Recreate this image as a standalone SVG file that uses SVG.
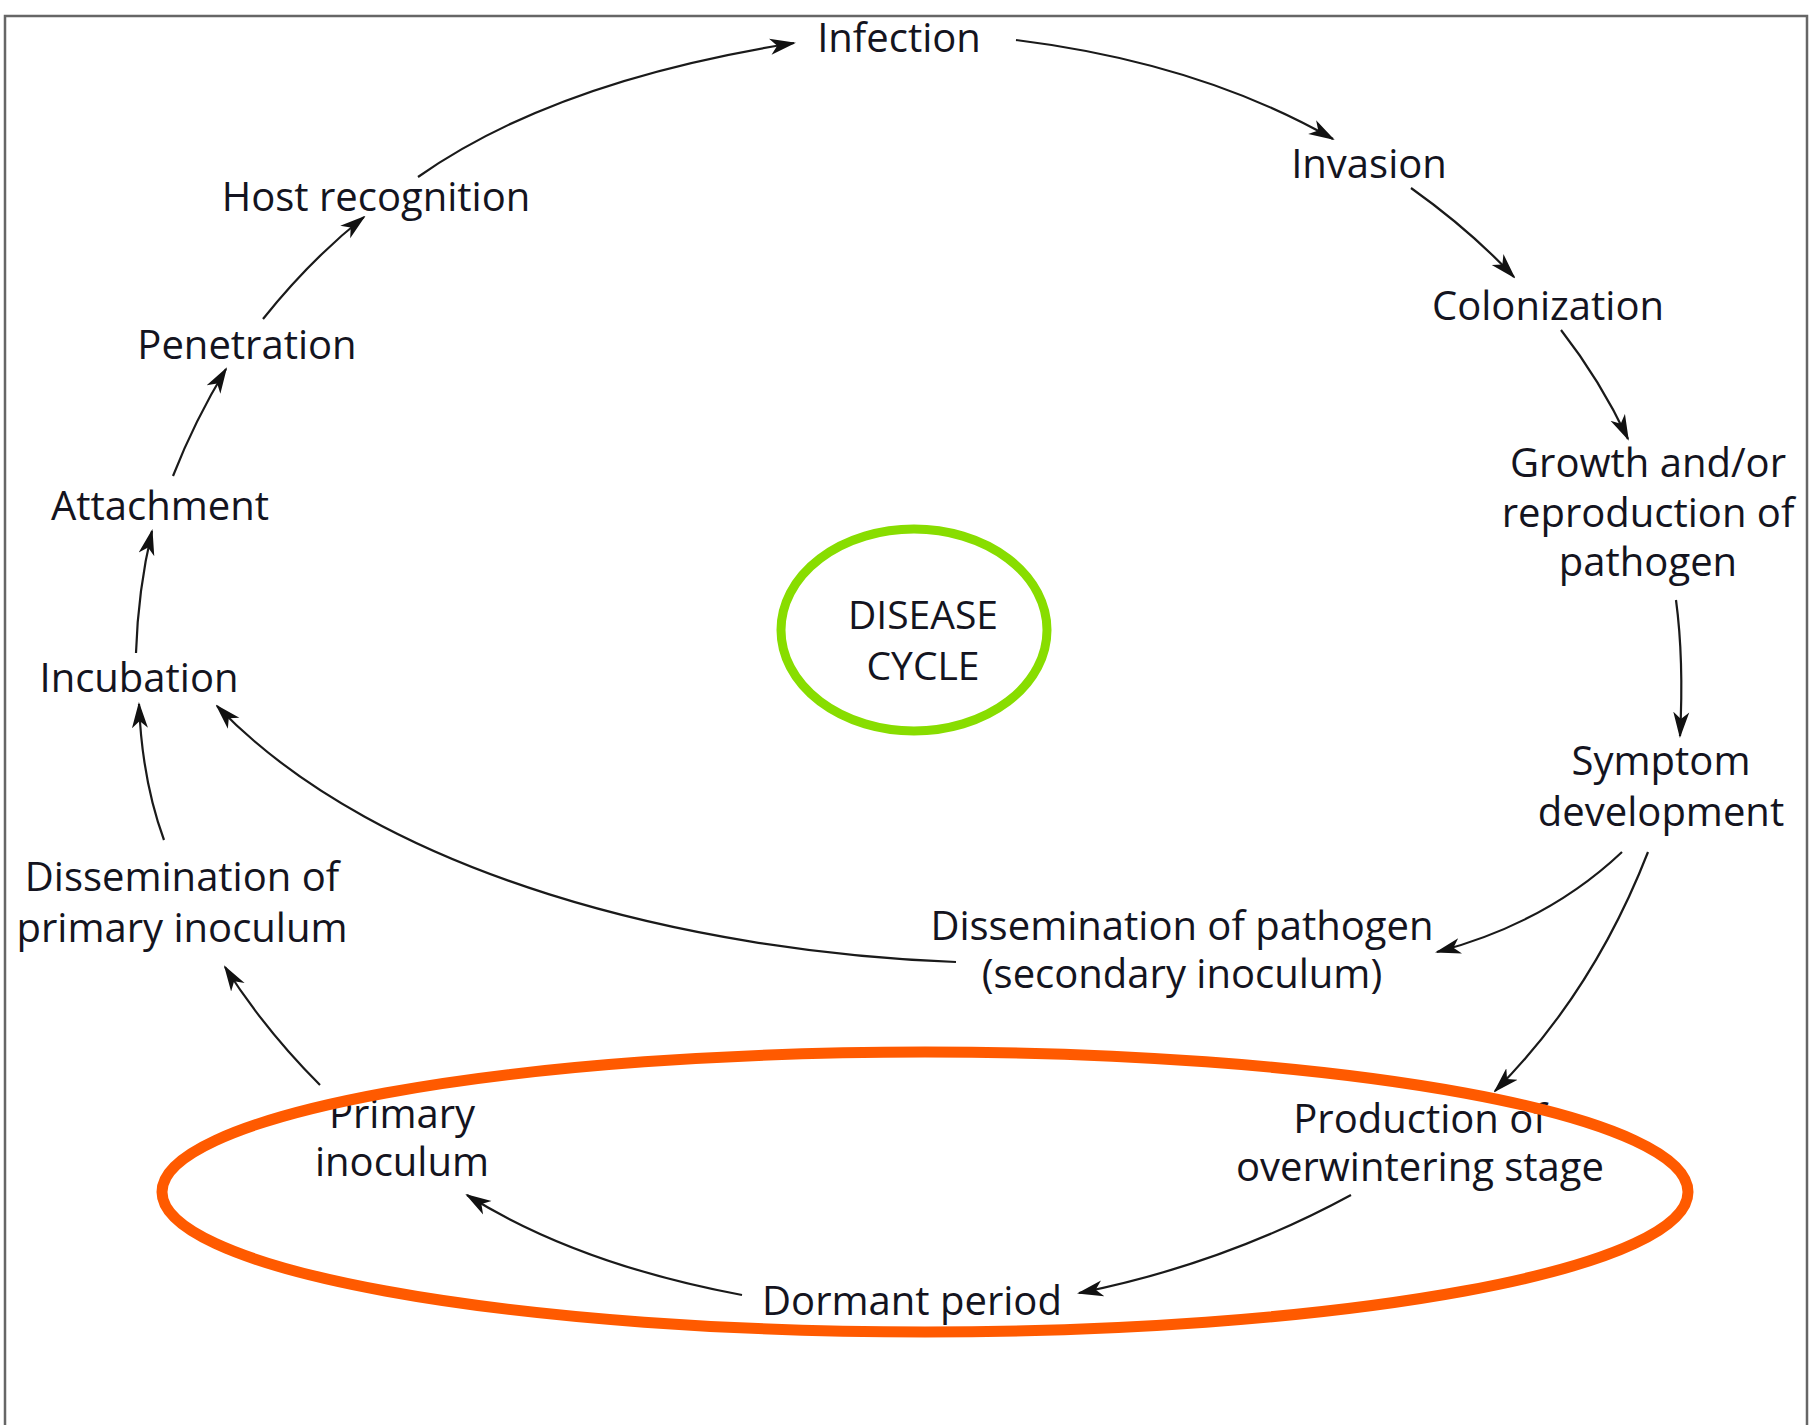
<svg xmlns="http://www.w3.org/2000/svg" width="1810" height="1425" viewBox="0 0 1810 1425">
<defs>
<style>
.t{font-family:"Open Sans","Noto Sans",sans-serif;font-size:40px;font-weight:500;fill:#141420;text-anchor:middle}
.c{fill:none;stroke:#1a1a1a;stroke-width:2.2;marker-end:url(#ah)}
</style>
<marker id="ah" viewBox="0 0 26 18" refX="24" refY="9" markerWidth="26" markerHeight="18" markerUnits="userSpaceOnUse" orient="auto">
<path d="M0,1 L26,9 L0,17 L7,9 z" fill="#111"/>
</marker>
</defs>
<rect width="1810" height="1425" fill="#fff"/>
<path d="M5,1425 V16 H1807 V1425" fill="none" stroke="#666" stroke-width="2.5"/>
<g id="connectors">
<path class="c" d="M418,177 Q554,81 794,43"/>
<path class="c" d="M1016,40 Q1200,63 1333,139"/>
<path class="c" d="M1411,188 Q1470,230 1514,277"/>
<path class="c" d="M1561,330 Q1600,380 1628,439"/>
<path class="c" d="M1676,600 Q1684,660 1680,736"/>
<path class="c" d="M1622,852 Q1547,923 1437,952"/>
<path class="c" d="M1648,852 Q1593,993 1495,1091"/>
<path class="c" d="M1351,1195 Q1224,1264 1079,1293"/>
<path class="c" d="M742,1295 Q577,1264 467,1195"/>
<path class="c" d="M320,1085 Q265,1030 225,967"/>
<path class="c" d="M164,840 Q142,780 139,704"/>
<path class="c" d="M136,653 Q138,590 152,531"/>
<path class="c" d="M173,476 Q195,420 226,369"/>
<path class="c" d="M263,319 Q310,260 364,217"/>
<path class="c" d="M956,962 C693,952 381,877 217,706"/>
</g>
<g id="infection"><text class="t" x="899" y="52">Infection</text></g>
<g id="invasion"><text class="t" x="1369" y="178">Invasion</text></g>
<g id="colonization"><text class="t" x="1548" y="320">Colonization</text></g>
<g id="growth"><text class="t" x="1648" y="477">Growth and/or</text><text class="t" x="1648" y="527">reproduction of</text><text class="t" x="1648" y="576">pathogen</text></g>
<g id="symptom"><text class="t" x="1661" y="775">Symptom</text><text class="t" x="1661" y="826">development</text></g>
<g id="dissemination-pathogen"><text class="t" x="1182" y="940">Dissemination of pathogen</text><text class="t" x="1182" y="988">(secondary inoculum)</text></g>
<g id="production"><text class="t" x="1420" y="1133">Production of</text><text class="t" x="1420" y="1181">overwintering stage</text></g>
<g id="dormant"><text class="t" x="912" y="1315">Dormant period</text></g>
<g id="primary-inoculum"><text class="t" x="402" y="1128">Primary</text><text class="t" x="402" y="1176">inoculum</text></g>
<g id="dissemination-primary"><text class="t" x="182" y="891">Dissemination of</text><text class="t" x="182" y="942">primary inoculum</text></g>
<g id="incubation"><text class="t" x="139" y="692">Incubation</text></g>
<g id="attachment"><text class="t" x="160" y="520">Attachment</text></g>
<g id="penetration"><text class="t" x="247" y="359">Penetration</text></g>
<g id="host-recognition"><text class="t" x="376" y="211">Host recognition</text></g>
<g id="disease-cycle">
<ellipse cx="914" cy="630" rx="133" ry="101" fill="none" stroke="#88dd00" stroke-width="9"/>
<text class="t" x="923" y="629" style="font-size:39px">DISEASE</text>
<text class="t" x="923" y="680" style="font-size:39px">CYCLE</text>
</g>
<g id="overwintering-highlight">
<ellipse cx="925" cy="1192" rx="763" ry="140" fill="none" stroke="#ff5a00" stroke-width="11"/>
</g>
</svg>
